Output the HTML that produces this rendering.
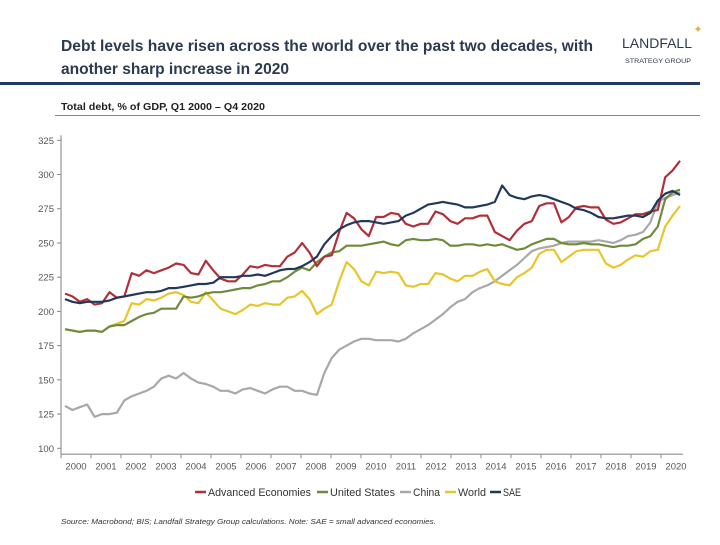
<!DOCTYPE html>
<html><head><meta charset="utf-8"><style>
body{margin:0;width:720px;height:540px;background:#fff;font-family:"Liberation Sans",sans-serif;overflow:hidden}
</style></head><body>
<svg width="720" height="540" id="chart" xmlns="http://www.w3.org/2000/svg">
<text x="61" y="51" font-size="16" font-weight="bold" fill="#2b3a4e" textLength="532" lengthAdjust="spacingAndGlyphs">Debt levels have risen across the world over the past two decades, with</text>
<text x="61" y="74" font-size="16" font-weight="bold" fill="#2b3a4e" textLength="228" lengthAdjust="spacingAndGlyphs">another sharp increase in 2020</text>
<g>
<text x="692" y="48" font-size="14" fill="#2b3a4e" text-anchor="end" textLength="70" lengthAdjust="spacingAndGlyphs">LANDFALL</text>
<text x="691" y="63" font-size="6.5" fill="#2b3a4e" text-anchor="end" textLength="66" lengthAdjust="spacingAndGlyphs">STRATEGY GROUP</text>
<text x="698" y="33" font-size="11" fill="#d9b44a" text-anchor="middle">✦</text>
</g>
<rect x="0" y="82" width="700" height="3" fill="#243a5e"/>
<text x="61" y="110" font-size="10" font-weight="bold" fill="#222" textLength="204" lengthAdjust="spacingAndGlyphs">Total debt, % of GDP, Q1 2000 – Q4 2020</text>
<rect x="55" y="115" width="645" height="1" fill="#888"/>
<g id="axes"></g>
<g id="lines"></g>
<g id="legend"></g>
<text x="61" y="524" font-size="7.5" font-style="italic" fill="#333" textLength="375" lengthAdjust="spacingAndGlyphs">Source: Macrobond;  BIS; Landfall Strategy Group calculations.  Note: SAE = small advanced economies.</text>
</svg>
<script>
const years=["2000","2001","2002","2003","2004","2005","2006","2007","2008","2009","2010","2011","2012","2013","2014","2015","2016","2017","2018","2019","2020"];
const yTicks=[100,125,150,175,200,225,250,275,300,325];
const seriesNames=["Advanced Economies","United States","China","World","SAE"];
const seriesColors=["#b0303a","#6f8a3c","#a8a8a8","#e8c52a","#22385a"];
const advanced=[213,211,207,209,205,206,214,210,211,228,226,230,228,230,232,235,234,228,227,237,230,224,222,222,227,233,232,234,233,233,240,243,250,243,233,240,241,258,272,268,260,255,269,269,272,271,264,262,264,264,273,271,266,264,268,268,270,270,258,255,252,259,264,266,277,279,279,265,269,276,277,276,276,267,264,265,268,271,271,273,274,298,303,310];
const us=[187,186,185,186,186,185,189,190,190,193,196,198,199,202,202,202,211,210,211,213,214,214,215,216,217,217,219,220,222,222,225,229,232,230,236,240,243,244,248,248,248,249,250,251,249,248,252,253,252,252,253,252,248,248,249,249,248,249,248,249,247,245,246,249,251,253,253,250,249,249,250,249,249,248,247,248,248,249,253,255,262,282,287,289];
const china=[131,128,130,132,123,125,125,126,135,138,140,142,145,151,153,151,155,151,148,147,145,142,142,140,143,144,142,140,143,145,145,142,142,140,139,155,166,172,175,178,180,180,179,179,179,178,180,184,187,190,194,198,203,207,209,214,217,219,222,226,230,234,239,244,246,247,248,250,251,251,251,251,252,251,250,252,255,256,258,265,280,283,285,287];
const world=[187,186,185,186,186,185,189,191,193,206,205,209,208,210,213,214,212,207,206,214,208,202,200,198,201,205,204,206,205,205,210,211,215,209,198,202,205,222,236,231,222,219,229,228,229,228,219,218,220,220,228,227,224,222,226,226,229,231,222,220,219,225,228,232,242,245,245,236,240,244,245,245,245,235,232,234,238,241,240,244,245,262,270,277];
const sae=[209,207,206,207,207,207,208,210,211,212,213,214,214,215,217,217,218,219,220,220,221,225,225,225,226,226,227,226,228,230,231,231,233,236,240,249,255,260,263,265,266,266,265,264,265,266,270,272,275,278,279,280,279,278,276,276,277,278,280,292,285,283,282,284,285,284,282,280,278,275,274,272,269,268,268,269,270,270,269,272,281,286,288,285];
const allSeries=[advanced,us,china,world,sae];
const NS="http://www.w3.org/2000/svg";
const X0=61,X1=683,YT=140.3,YB=448.3;
const yS=v=>YB-(v-100)/(325-100)*(YB-YT);
const xQ=i=>65+i*(680-65)/83;
const xYear=i=>61+i*30;
function mk(tag,attrs,parent){const e=document.createElementNS(NS,tag);for(const k in attrs)e.setAttribute(k,attrs[k]);parent.appendChild(e);return e;}
const axes=document.getElementById('axes');
const yl=mk('line',{x1:X0,x2:X0,y1:YT-5,y2:YB+6,stroke:'#aaa','stroke-width':1.5},axes);


const xl=mk('line',{x1:X0,x2:X1,y1:YB+6,y2:YB+6,stroke:'#aaa','stroke-width':1.5},axes);


yTicks.forEach(v=>{
  mk('line',{x1:X0-4,x2:X0,y1:yS(v),y2:yS(v),stroke:'#888'},axes);
  const t=mk('text',{x:X0-7,y:yS(v)+3.5,'font-size':9.5,fill:'#555','text-anchor':'end'},axes);
  t.textContent=v;
  
  
});
years.forEach((y,i)=>{
  mk('line',{x1:xYear(i),x2:xYear(i),y1:YB+6,y2:YB+10,stroke:'#888'},axes);
  const t=mk('text',{x:xYear(i)+15,y:YB+21,'font-size':9.5,fill:'#555','text-anchor':'middle'},axes);
  t.textContent=y;
  
  
});
const lines=document.getElementById('lines');
[2,3,1,0,4].forEach(s=>{
  const d=allSeries[s].map((v,i)=>(i?'L':'M')+xQ(i).toFixed(1)+','+yS(v).toFixed(1)).join('');
  const p=mk('path',{d:d,fill:'none',stroke:seriesColors[s],'stroke-width':2.2,'stroke-linejoin':'round'},lines);
  
  
});
const lg=document.getElementById('legend');
const lx=[195,317,400,445,490];
const lw=[103,65,27,28,18];
seriesNames.forEach((n,i)=>{
  const g=mk('g',{},lg);
  
  
  mk('line',{x1:lx[i],x2:lx[i]+11,y1:492,y2:492,stroke:seriesColors[i],'stroke-width':2.5},g);
  const t=mk('text',{x:lx[i]+13,y:496,'font-size':11,fill:'#333',textLength:lw[i],lengthAdjust:'spacingAndGlyphs'},g);
  t.textContent=n;
});
</script>
</body></html>
